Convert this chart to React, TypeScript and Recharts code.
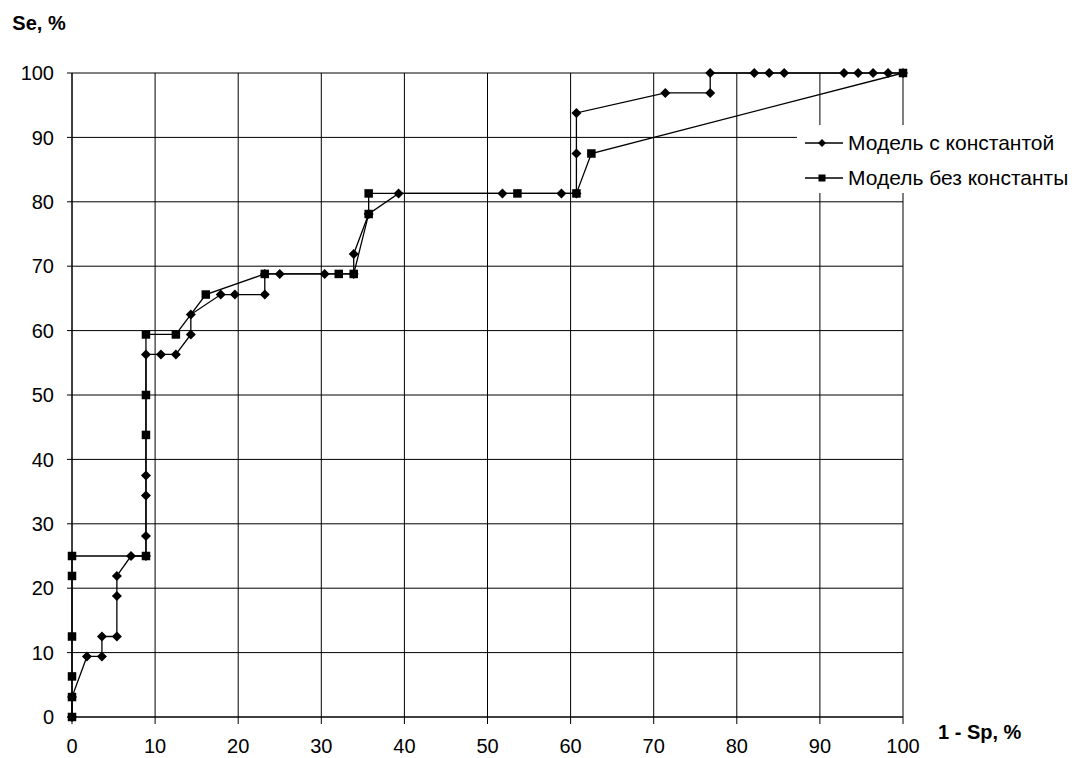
import {
  CartesianGrid,
  Legend,
  Line,
  LineChart,
  XAxis,
  YAxis,
} from "recharts";

// "Модель с константой" (diamonds)
const withConstX = [
  0, 0, 1.8, 3.6, 3.6, 5.4, 5.4, 5.4, 7.1, 8.9, 8.9, 8.9, 8.9, 8.9, 10.7,
  12.5, 14.3, 14.3, 17.9, 19.6, 23.2, 23.2, 25.0, 30.4, 33.9, 33.9, 35.7,
  39.3, 51.8, 58.9, 60.7, 60.7, 60.7, 71.4, 76.8, 76.8, 82.1, 83.9, 85.7,
  92.9, 94.6, 96.4, 98.2, 100,
];
const withConstY = [
  0, 3.1, 9.4, 9.4, 12.5, 12.5, 18.8, 21.9, 25.0, 25.0, 28.1, 34.4, 37.5,
  56.3, 56.3, 56.3, 59.4, 62.5, 65.6, 65.6, 65.6, 68.8, 68.8, 68.8, 68.8,
  71.9, 78.1, 81.3, 81.3, 81.3, 81.3, 87.5, 93.8, 96.9, 96.9, 100, 100, 100,
  100, 100, 100, 100, 100, 100,
];

// "Модель без константы" (squares)
const noConstX = [
  0, 0, 0, 0, 0, 0, 8.9, 8.9, 8.9, 8.9, 12.5, 16.1, 23.2, 32.1, 33.9, 35.7,
  35.7, 53.6, 60.7, 62.5, 100,
];
const noConstY = [
  0, 3.1, 6.3, 12.5, 21.9, 25.0, 25.0, 43.8, 50.0, 59.4, 59.4, 65.6, 68.8,
  68.8, 68.8, 78.1, 81.3, 81.3, 81.3, 87.5, 100,
];

const TICKS = [0, 10, 20, 30, 40, 50, 60, 70, 80, 90, 100];
const SERIES_NAMES = ["Модель с константой", "Модель без константы"];

const FONT = "Arial, 'Liberation Sans', sans-serif";

const withConst = withConstX.map((x, i) => ({ x, y: withConstY[i] }));
const noConst = noConstX.map((x, i) => ({ x, y: noConstY[i] }));

function Diamond({ cx, cy, r = 5 }: { cx: number; cy: number; r?: number }) {
  return (
    <path
      d={`M${cx},${cy - r}L${cx + r},${cy}L${cx},${cy + r}L${cx - r},${cy}Z`}
      fill="#000"
    />
  );
}

function Square({ cx, cy, s = 8.5 }: { cx: number; cy: number; s?: number }) {
  return <rect x={cx - s / 2} y={cy - s / 2} width={s} height={s} fill="#000" />;
}

function LegendBox() {
  const row = (label: string, square: boolean) => (
    <div style={{ display: "flex", alignItems: "center", height: 35 }}>
      <svg width={51} height={14} style={{ display: "block" }}>
        <line x1={8} y1={7} x2={46} y2={7} stroke="#000" strokeWidth={1.3} />
        {square ? (
          <Square cx={25} cy={7} s={7} />
        ) : (
          <Diamond cx={25} cy={7} r={4} />
        )}
      </svg>
      <span style={{ fontFamily: FONT, fontSize: 21, color: "#000", whiteSpace: "nowrap" }}>
        {label}
      </span>
    </div>
  );
  return (
    <div style={{ background: "#fff", width: 277, height: 68 }}>
      {row(SERIES_NAMES[0], false)}
      {row(SERIES_NAMES[1], true)}
    </div>
  );
}

export default function App() {
  return (
    <div style={{ position: "absolute", left: 0, top: 0, width: 1074, height: 758, background: "#fff" }}>
      <LineChart
        width={1074}
        height={758}
        margin={{ top: 73, right: 171, bottom: 11, left: 0 }}
      >
        <CartesianGrid stroke="#000" strokeWidth={1} ticks={TICKS} />
        <XAxis
          type="number"
          dataKey="x"
          domain={[0, 100]}
          ticks={TICKS}
          interval={0}
          height={30}
          tickSize={7}
          tickMargin={15}
          axisLine={{ stroke: "#000" }}
          tickLine={{ stroke: "#000" }}
          tick={{ fill: "#000", fontSize: 20, fontFamily: FONT }}
          label={{
            value: "1 - Sp, %",
            position: "right",
            offset: 35,
            fill: "#000",
            fontSize: 20,
            fontWeight: "bold",
            fontFamily: FONT,
          }}
        />
        <YAxis
          type="number"
          dataKey="y"
          domain={[0, 100]}
          ticks={TICKS}
          interval={0}
          width={72}
          tickSize={5}
          tickMargin={13}
          axisLine={{ stroke: "#000" }}
          tickLine={{ stroke: "#000" }}
          tick={{ fill: "#000", fontSize: 20, fontFamily: FONT }}
          label={{
            content: ({ viewBox }: any) => (
              <text
                x={viewBox.x + viewBox.width / 2 + 3}
                y={viewBox.y - 43}
                textAnchor="middle"
                fill="#000"
                fontSize={20}
                fontWeight="bold"
                fontFamily={FONT}
              >
                Se, %
              </text>
            ),
          }}
        />
        <Legend
          layout="vertical"
          align="center"
          verticalAlign="middle"
          wrapperStyle={{ left: 797, top: 125, width: 277 }}
          content={() => <LegendBox />}
        />
        <Line
          data={withConst}
          dataKey="y"
          name={SERIES_NAMES[0]}
          stroke="#000"
          strokeWidth={1.3}
          isAnimationActive={false}
          dot={(p: any) => <Diamond key={`d${p.index}`} cx={p.cx} cy={p.cy} />}
          activeDot={false}
        />
        <Line
          data={noConst}
          dataKey="y"
          name={SERIES_NAMES[1]}
          stroke="#000"
          strokeWidth={1.3}
          isAnimationActive={false}
          dot={(p: any) => <Square key={`s${p.index}`} cx={p.cx} cy={p.cy} />}
          activeDot={false}
        />
      </LineChart>
    </div>
  );
}
